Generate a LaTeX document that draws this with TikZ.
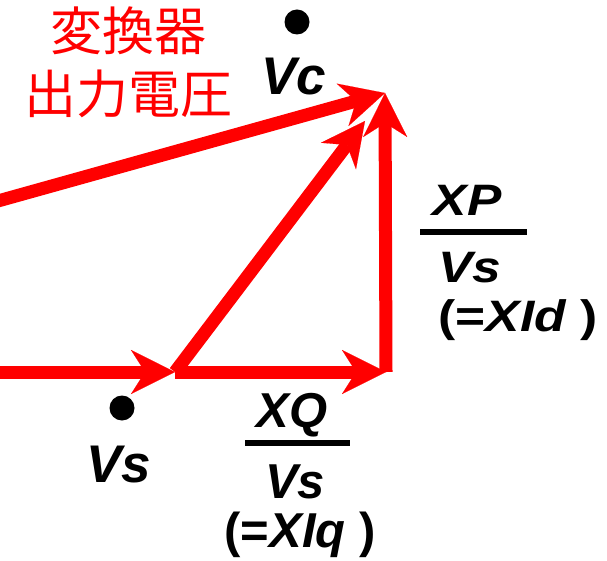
\documentclass[tikz,border=0pt]{standalone}
\usepackage{fontspec}
\setmainfont{Liberation Sans}
\newfontfamily\widesans[FakeStretch=1.17]{Liberation Sans}
\newfontfamily\cjk{Noto Sans CJK JP}
\usetikzlibrary{arrows.meta}
\definecolor{vred}{RGB}{255,0,0}
\begin{document}
\begin{tikzpicture}[x=1pt,y=-1pt,
  vec/.style={draw=vred,line width=13pt,-{Stealth[length=44pt,width=44pt,inset=14pt,line width=0.1pt]}},
  dotmark/.style={circle,fill=black,inner sep=0pt,minimum size=25pt},
  biglab/.style={font=\fontsize{53}{53}\selectfont\bfseries\itshape,inner sep=0pt,anchor=base},
  fracq/.style={font=\fontsize{49}{49}\selectfont\bfseries,inner sep=0pt,anchor=base},
  fracp/.style={font=\widesans\fontsize{44}{44}\selectfont\bfseries,inner sep=0pt,anchor=base},
  fbar/.style={draw=black,line width=6pt},
  jlab/.style={font=\cjk\fontsize{52}{52}\selectfont,text=vred,inner sep=0pt,anchor=base}
]
\useasboundingbox (0,0) rectangle (607,561);
\clip (0,0) rectangle (607,561);
% coordinates
\coordinate (L1) at (-20,372);
\coordinate (M) at (175,372);
\coordinate (R) at (386,372);
\coordinate (A) at (385,93);
\coordinate (L2) at (-20,206);
\coordinate (D) at (365,121);
% vectors
\draw[vec] (L2) -- (A);
\draw[vec] (L1) -- (M);
\draw[vec] (M) -- (R);
\draw[vec] (M) -- (D);
\draw[vec] (R) -- (A);
% dots
\node[dotmark] (dc) at (297,22) {};
\node[dotmark] (ds) at (122,408) {};
% labels
\node[biglab] (vc) at (294,95) {Vc};
\node[biglab] (vs) at (119,482) {Vs};
\node[jlab] (j1) at (128.5,51) {変換器};
\node[jlab] (j2) at (128.5,114) {出力電圧};
% XQ fraction
\node[fracq] (xq) at (292,427) {\itshape XQ};
\draw[fbar] (245,443) coordinate (qb1) -- (350,443) coordinate (qb2);
\node[fracq] (qvs) at (295,498) {\itshape Vs};
\node[fracq] (xiq) at (300,547) {(={\itshape XIq} )};
% XP fraction
\node[fracp] (xp) at (467,215) {\itshape XP};
\draw[fbar] (420,232) coordinate (pb1) -- (527,232) coordinate (pb2);
\node[fracp] (pvs) at (470,282) {\itshape Vs};
\node[fracp] (xid) at (518,331) {(={\itshape XId} )};
\end{tikzpicture}
\end{document}
